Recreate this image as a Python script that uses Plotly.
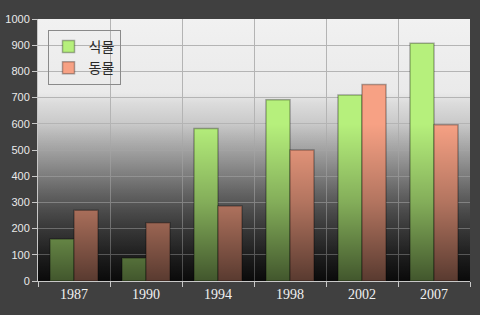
import base64
import plotly.graph_objects as go

# ---- data ----
years = ["1987", "1990", "1994", "1998", "2002", "2007"]
plants = [160, 88, 582, 692, 710, 907]      # 식물
animals = [270, 222, 286, 500, 750, 596]    # 동물
series_names = ["식물", "동물"]
y_ticks = list(range(0, 1001, 100))

# ---- styling ----
GREEN = "#b6f07c"
SALMON = "#f7a184"
PAPER = "#404040"

# final background grey levels (offset from top, grey)
bg_final = [(0.0, 241), (0.28, 234), (0.32, 220), (0.54, 146), (0.60, 124),
            (0.73, 76), (0.855, 42), (0.97, 16), (1.0, 10)]


def overlay_alpha(o):
    if o <= 0.40:
        return 0.0
    if o <= 0.70:
        return 0.28 * (o - 0.40) / 0.30
    return 0.28 + 0.36 * (o - 0.70) / 0.30


ov_offsets = [0.0, 0.40, 0.55, 0.70, 0.85, 1.0]


def svg_uri(stops_xml):
    svg = ('<svg xmlns="http://www.w3.org/2000/svg" width="10" height="100" '
           'preserveAspectRatio="none"><defs><linearGradient id="g" x1="0" y1="0" '
           'x2="0" y2="1">' + stops_xml + '</linearGradient></defs>'
           '<rect width="10" height="100" fill="url(#g)"/></svg>')
    return "data:image/svg+xml;base64," + base64.b64encode(svg.encode()).decode()


bg_stops = ""
for o, g in bg_final:
    a = overlay_alpha(o)
    base = min(255, int(round(g / (1 - a))))
    bg_stops += f'<stop offset="{o}" stop-color="rgb({base},{base},{base})"/>'

ov_stops = ""
for o in ov_offsets:
    ov_stops += f'<stop offset="{o}" stop-color="black" stop-opacity="{overlay_alpha(o):.3f}"/>'

fig = go.Figure()
for name, vals, col in [(series_names[0], plants, GREEN), (series_names[1], animals, SALMON)]:
    fig.add_trace(go.Bar(
        x=years, y=vals, name=name,
        marker=dict(color=col, line=dict(color="rgba(0,0,0,0.3)", width=1.5)),
    ))

fig.update_layout(
    width=480, height=315,
    margin=dict(l=38, r=10, t=19, b=34),
    paper_bgcolor=PAPER,
    plot_bgcolor="rgba(0,0,0,0)",
    barmode="group", bargap=0.333, bargroupgap=0,
    showlegend=True,
    legend=dict(
        x=0.022, y=0.958, xanchor="left", yanchor="top",
        bgcolor="rgba(0,0,0,0)", bordercolor="#8a8a8a", borderwidth=1,
        font=dict(family="Noto Sans CJK KR", size=14, color="#2a2a2a"),
        tracegroupgap=0, itemwidth=30,
    ),
    images=[
        dict(source=svg_uri(bg_stops), xref="paper", yref="paper", x=0, y=1,
             sizex=1, sizey=1, sizing="stretch", xanchor="left", yanchor="top",
             layer="below"),
        dict(source=svg_uri(ov_stops), xref="paper", yref="paper", x=0, y=1,
             sizex=1, sizey=1, sizing="stretch", xanchor="left", yanchor="top",
             layer="above"),
    ],
    xaxis=dict(
        type="category", tickson="boundaries", showgrid=True,
        gridcolor="#b4b4b4", gridwidth=1,
        ticks="outside", ticklen=5, tickcolor="#c8c8c8",
        showline=True, linecolor="#c8c8c8", linewidth=1,
        tickfont=dict(family="Liberation Serif", size=14, color="#f0f0f0"),
        zeroline=False, automargin=False,
    ),
    yaxis=dict(
        range=[0, 1000], tickvals=y_ticks, showgrid=True,
        gridcolor="#b4b4b4", gridwidth=1,
        ticks="outside", ticklen=5, tickcolor="#c8c8c8",
        showline=True, linecolor="#c8c8c8", linewidth=1,
        tickfont=dict(family="Liberation Sans", size=11, color="#eaeaea"),
        zeroline=False, automargin=False,
    ),
)

fig.write_html("out.html")
